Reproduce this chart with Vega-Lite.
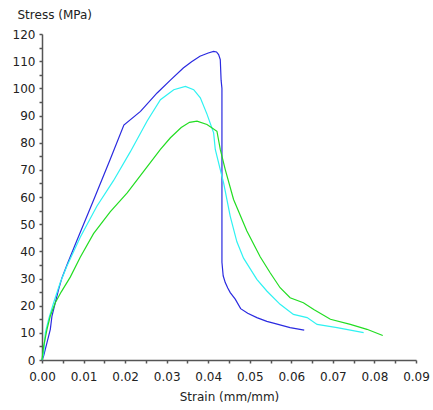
{
  "$schema": "https://vega.github.io/schema/vega-lite/v6.json",
  "width": 374,
  "height": 326,
  "autosize": "none",
  "padding": {"left": 42, "top": 34, "right": 17, "bottom": 50},
  "background": "white",
  "config": {"view": {"stroke": null}, "font": "DejaVu Sans"},
  "data": {"values": [
    {"s": "blue", "strain": 0, "stress": 0},
    {"s": "blue", "strain": 0.0004, "stress": 1.5},
    {"s": "blue", "strain": 0.0012, "stress": 6.4},
    {"s": "blue", "strain": 0.002, "stress": 11.3},
    {"s": "blue", "strain": 0.0024, "stress": 16.2},
    {"s": "blue", "strain": 0.0032, "stress": 21.1},
    {"s": "blue", "strain": 0.004, "stress": 26},
    {"s": "blue", "strain": 0.0048, "stress": 30.2},
    {"s": "blue", "strain": 0.006, "stress": 35},
    {"s": "blue", "strain": 0.008, "stress": 42.5},
    {"s": "blue", "strain": 0.0124, "stress": 58.8},
    {"s": "blue", "strain": 0.0164, "stress": 73.8},
    {"s": "blue", "strain": 0.0197, "stress": 86.5},
    {"s": "blue", "strain": 0.0237, "stress": 91.5},
    {"s": "blue", "strain": 0.0277, "stress": 98.3},
    {"s": "blue", "strain": 0.0309, "stress": 103},
    {"s": "blue", "strain": 0.034, "stress": 107.5},
    {"s": "blue", "strain": 0.036, "stress": 109.8},
    {"s": "blue", "strain": 0.038, "stress": 111.8},
    {"s": "blue", "strain": 0.040, "stress": 113},
    {"s": "blue", "strain": 0.0413, "stress": 113.6},
    {"s": "blue", "strain": 0.042, "stress": 113.4},
    {"s": "blue", "strain": 0.0425, "stress": 112.4},
    {"s": "blue", "strain": 0.0429, "stress": 110.6},
    {"s": "blue", "strain": 0.0431, "stress": 103},
    {"s": "blue", "strain": 0.0433, "stress": 100},
    {"s": "blue", "strain": 0.0433, "stress": 36},
    {"s": "blue", "strain": 0.0436, "stress": 31},
    {"s": "blue", "strain": 0.0441, "stress": 28.5},
    {"s": "blue", "strain": 0.0447, "stress": 26.5},
    {"s": "blue", "strain": 0.0453, "stress": 24.8},
    {"s": "blue", "strain": 0.0465, "stress": 22.4},
    {"s": "blue", "strain": 0.0478, "stress": 18.9},
    {"s": "blue", "strain": 0.0495, "stress": 17.2},
    {"s": "blue", "strain": 0.0517, "stress": 15.6},
    {"s": "blue", "strain": 0.0541, "stress": 14.2},
    {"s": "blue", "strain": 0.0557, "stress": 13.6},
    {"s": "blue", "strain": 0.0597, "stress": 11.9},
    {"s": "blue", "strain": 0.0631, "stress": 11.0},
    {"s": "cyan", "strain": 0, "stress": 0},
    {"s": "cyan", "strain": 0.0004, "stress": 2.7},
    {"s": "cyan", "strain": 0.0008, "stress": 10},
    {"s": "cyan", "strain": 0.0016, "stress": 15},
    {"s": "cyan", "strain": 0.0028, "stress": 21.1},
    {"s": "cyan", "strain": 0.0044, "stress": 28.5},
    {"s": "cyan", "strain": 0.006, "stress": 34.6},
    {"s": "cyan", "strain": 0.0092, "stress": 45.2},
    {"s": "cyan", "strain": 0.0132, "stress": 56.6},
    {"s": "cyan", "strain": 0.0172, "stress": 66},
    {"s": "cyan", "strain": 0.0212, "stress": 76.5},
    {"s": "cyan", "strain": 0.0253, "stress": 88},
    {"s": "cyan", "strain": 0.0285, "stress": 95.8},
    {"s": "cyan", "strain": 0.0317, "stress": 99.5},
    {"s": "cyan", "strain": 0.0345, "stress": 100.7},
    {"s": "cyan", "strain": 0.0365, "stress": 99.5},
    {"s": "cyan", "strain": 0.0381, "stress": 96.5},
    {"s": "cyan", "strain": 0.0397, "stress": 90.5},
    {"s": "cyan", "strain": 0.0413, "stress": 83.6},
    {"s": "cyan", "strain": 0.0417, "stress": 77.5},
    {"s": "cyan", "strain": 0.0429, "stress": 70.1},
    {"s": "cyan", "strain": 0.0437, "stress": 65.2},
    {"s": "cyan", "strain": 0.0453, "stress": 52.9},
    {"s": "cyan", "strain": 0.0469, "stress": 43.5},
    {"s": "cyan", "strain": 0.0485, "stress": 37.5},
    {"s": "cyan", "strain": 0.0517, "stress": 29.7},
    {"s": "cyan", "strain": 0.0541, "stress": 25.4},
    {"s": "cyan", "strain": 0.0573, "stress": 20.5},
    {"s": "cyan", "strain": 0.0605, "stress": 16.8},
    {"s": "cyan", "strain": 0.0638, "stress": 15.6},
    {"s": "cyan", "strain": 0.0662, "stress": 13.1},
    {"s": "cyan", "strain": 0.071, "stress": 11.9},
    {"s": "cyan", "strain": 0.0774, "stress": 10.1},
    {"s": "green", "strain": 0, "stress": 0},
    {"s": "green", "strain": 0.0004, "stress": 5.1},
    {"s": "green", "strain": 0.0012, "stress": 11.3},
    {"s": "green", "strain": 0.002, "stress": 16.2},
    {"s": "green", "strain": 0.0032, "stress": 21.1},
    {"s": "green", "strain": 0.0046, "stress": 25},
    {"s": "green", "strain": 0.0068, "stress": 30.5},
    {"s": "green", "strain": 0.0092, "stress": 37.8},
    {"s": "green", "strain": 0.0124, "stress": 46.5},
    {"s": "green", "strain": 0.0164, "stress": 54.5},
    {"s": "green", "strain": 0.0205, "stress": 61.5},
    {"s": "green", "strain": 0.0245, "stress": 69.5},
    {"s": "green", "strain": 0.0285, "stress": 77.5},
    {"s": "green", "strain": 0.0309, "stress": 81.8},
    {"s": "green", "strain": 0.0335, "stress": 85.6},
    {"s": "green", "strain": 0.0355, "stress": 87.5},
    {"s": "green", "strain": 0.0373, "stress": 87.9},
    {"s": "green", "strain": 0.0397, "stress": 86.7},
    {"s": "green", "strain": 0.0421, "stress": 84.2},
    {"s": "green", "strain": 0.0429, "stress": 77.5},
    {"s": "green", "strain": 0.0441, "stress": 70.1},
    {"s": "green", "strain": 0.0461, "stress": 59.1},
    {"s": "green", "strain": 0.0493, "stress": 47.5},
    {"s": "green", "strain": 0.0525, "stress": 38},
    {"s": "green", "strain": 0.0549, "stress": 32.1},
    {"s": "green", "strain": 0.0573, "stress": 26.6},
    {"s": "green", "strain": 0.0597, "stress": 22.9},
    {"s": "green", "strain": 0.0629, "stress": 21.1},
    {"s": "green", "strain": 0.0654, "stress": 18.6},
    {"s": "green", "strain": 0.0694, "stress": 15},
    {"s": "green", "strain": 0.0742, "stress": 13.1},
    {"s": "green", "strain": 0.0782, "stress": 11.3},
    {"s": "green", "strain": 0.082, "stress": 9}
  ]},
  "mark": {"type": "line", "strokeWidth": 1.2},
  "encoding": {
    "x": {
      "field": "strain", "type": "quantitative",
      "scale": {"domain": [0, 0.09], "nice": false, "zero": true},
      "axis": {
        "values": [0, 0.005, 0.01, 0.015, 0.02, 0.025, 0.03, 0.035, 0.04, 0.045, 0.05, 0.055, 0.06, 0.065, 0.07, 0.075, 0.08, 0.085, 0.09],
        "format": ".2f",
        "labelExpr": "round(datum.value*1000) % 10 == 0 ? datum.label : ''",
        "grid": false,
        "domainColor": "#555555", "domainWidth": 1.5,
        "tickColor": "#555555", "tickWidth": 1.5, "tickSize": 3,
        "labelPadding": 8, "labelFontSize": 12, "labelColor": "#222222",
        "labelFont": "DejaVu Sans", "labelOverlap": false, "labelFlush": false,
        "title": "Strain (mm/mm)", "titleFont": "DejaVu Sans", "titleFontSize": 12,
        "titleFontWeight": "normal", "titleColor": "#222222",
        "titleBaseline": "alphabetic", "titleY": 40
      }
    },
    "y": {
      "field": "stress", "type": "quantitative",
      "scale": {"domain": [0, 120], "nice": false},
      "axis": {
        "values": [0, 5, 10, 15, 20, 25, 30, 35, 40, 45, 50, 55, 60, 65, 70, 75, 80, 85, 90, 95, 100, 105, 110, 115, 120],
        "labelExpr": "datum.value % 10 == 0 ? datum.label : ''",
        "grid": false,
        "domainColor": "#555555", "domainWidth": 1.5,
        "tickColor": "#555555", "tickWidth": 1.5, "tickSize": 3,
        "labelPadding": 4, "labelFontSize": 12, "labelColor": "#222222",
        "labelFont": "DejaVu Sans", "labelOverlap": false, "labelFlush": false,
        "title": "Stress (MPa)", "titleFont": "DejaVu Sans", "titleFontSize": 12,
        "titleFontWeight": "normal", "titleColor": "#222222",
        "titleAngle": 0, "titleAlign": "left", "titleBaseline": "alphabetic",
        "titleX": -25, "titleY": -16
      }
    },
    "color": {
      "field": "s", "type": "nominal", "legend": null,
      "scale": {"domain": ["blue", "cyan", "green"], "range": ["#2a2ae0", "#2ef2f2", "#22dd22"]}
    },
    "order": {"value": null}
  }
}
